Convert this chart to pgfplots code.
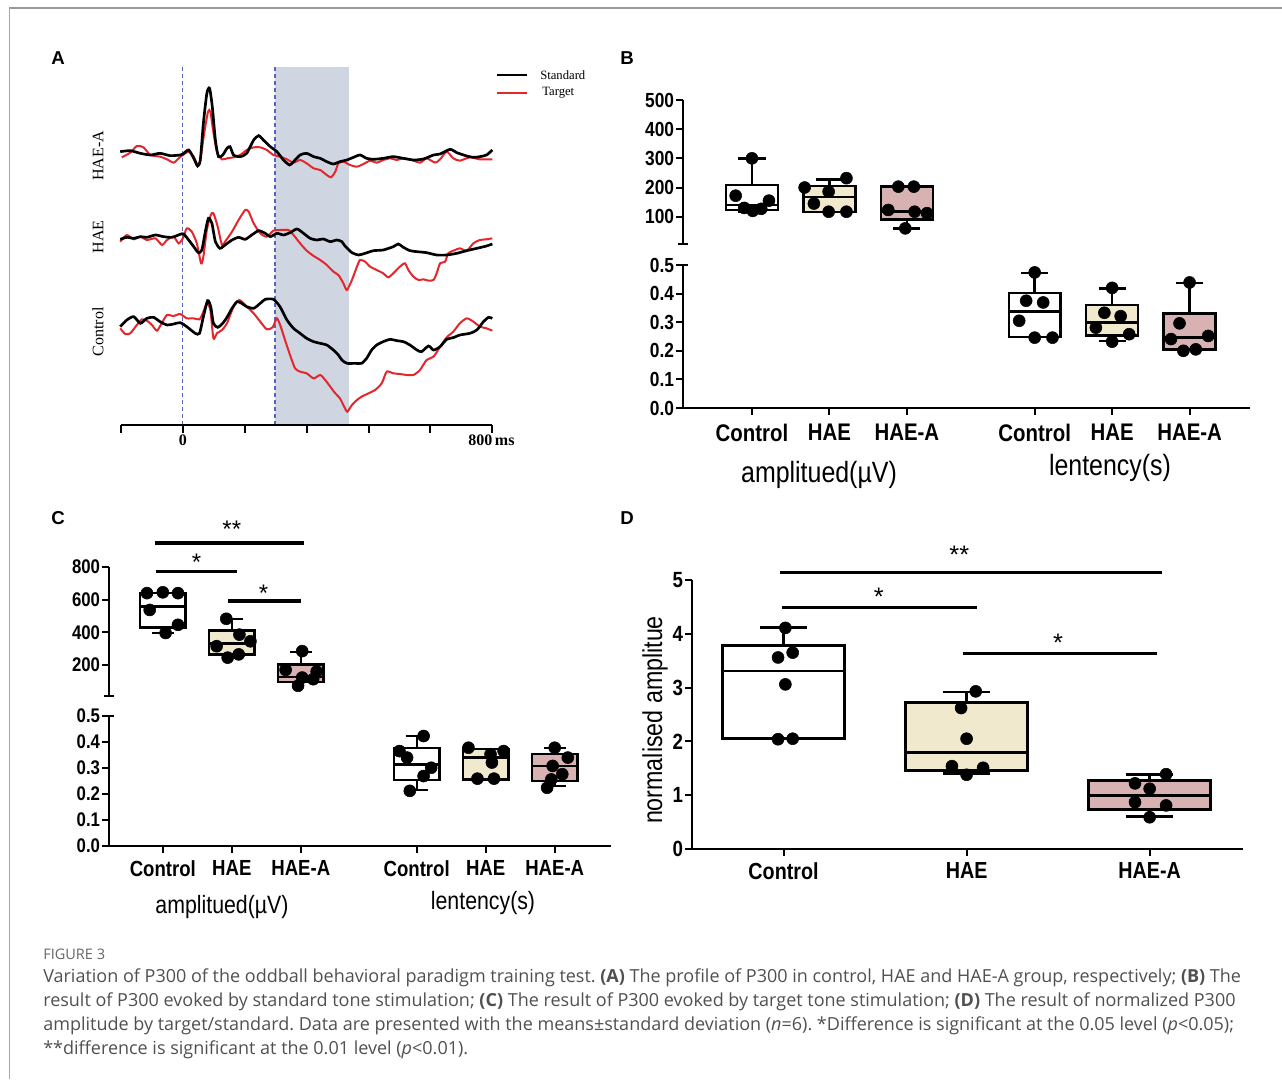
\documentclass[border=0pt]{standalone}
\usepackage{pgfplots}
\pgfplotsset{compat=1.18}
\usepackage{fontspec}
\setmainfont{Liberation Serif}
\newfontfamily\pf[FakeStretch=0.85]{Liberation Sans}
\newfontfamily\lf{Liberation Sans}
\newfontfamily\capf{Open Sans}
\definecolor{trgred}{RGB}{228,38,45}
\definecolor{shadeA}{RGB}{207,214,225}
\definecolor{dashblue}{RGB}{85,100,190}
\definecolor{haefill}{RGB}{240,233,206}
\definecolor{haeafill}{RGB}{216,178,178}
\definecolor{capgray}{RGB}{80,80,80}
\pgfplotsset{
  bx/.style={scale only axis, clip=false, anchor=south west,
    axis line style={line width=1.5pt, black},
    every tick/.style={line width=1.5pt, black},
    tick align=outside, major tick length=5pt,
    yticklabel style={inner sep=1.5pt},
  },
  upax/.style={axis x line*=bottom, axis y line*=left, x axis line style={draw=none}, xtick=\empty},
  dotmk/.style={only marks, mark=*, mark size=4.5pt, black, mark options={fill=black, draw=black}},
  boxl/.style={draw=black, line width=1.8pt, line cap=rect, line join=miter, mark=none},
  whl/.style={draw=black, line width=1.8pt, mark=none, unbounded coords=jump},
}
\begin{document}
\frenchspacing
\begin{tikzpicture}
\path[use as bounding box] (0,0) rectangle (961.5pt,809.25pt);
% frame
\draw[line width=1.1pt, color=black!40] (6.75pt,803.25pt) -- (961.5pt,803.25pt);
\draw[line width=0.7pt, color=black!35] (6.75pt,803.25pt) -- (6.75pt,0pt);

% ================= Panel A =================
\begin{axis}[at={(90.75pt,490.5pt)}, anchor=south west, scale only axis,
  width=278.5pt, height=268.25pt, xmin=-160, xmax=800, ymin=0, ymax=1073, clip=false,
  axis on top,
  axis x line*=bottom, axis y line=none,
  axis line style={line width=1.5pt, black},
  xtick={-160,0,160,320,480,640,800},
  xticklabels={,0,,,,,{\makebox[0pt][r]{800}\makebox[0pt][l]{\,ms}}},
  xtick align=outside, major tick length=6pt, every tick/.style={line width=1.5pt, black},
  xticklabel style={font=\bfseries\fontsize{12}{12}\selectfont, inner sep=1pt},
  ytick=\empty]
\fill[shadeA] (axis cs:238,0) rectangle (axis cs:430,1073);
\draw[dashblue, line width=0.9pt, dash pattern=on 3pt off 2.2pt] (axis cs:0,0) -- (axis cs:0,1073);
\draw[dashblue, line width=0.9pt, dash pattern=on 3pt off 2.2pt] (axis cs:238,0) -- (axis cs:238,1073);
% HAE-A target
\addplot[trgred, line width=1.5pt, smooth, tension=0.4] coordinates {
(-158,803) (-136,817) (-119,837) (-102,833) (-84,810) (-59,805) (-41,797) (-24,787) (-11,800) (0,810)
(15,820) (28,805) (38,780) (45,795) (55,875) (65,940) (71,940) (78,885) (88,820) (101,797)
(114,800) (131,803) (148,810) (165,825) (183,833) (200,833) (217,825) (234,810) (251,805) (269,797)
(286,787) (303,795) (320,785) (338,770) (355,765) (372,750) (383,743) (394,760) (402,785) (415,790)
(432,780) (450,775) (467,783) (484,793) (501,787) (518,795) (536,800) (553,795) (570,800) (587,797)
(613,787) (630,800) (652,787) (665,797) (682,820) (699,800) (716,793) (742,803) (768,797) (800,797)};
% HAE-A standard
\addplot[black, line width=2pt, smooth, tension=0.4] coordinates {
(-162,820) (-136,823) (-110,815) (-84,810) (-59,815) (-33,808) (-7,810) (0,813) (15,825) (28,800)
(38,777) (45,795) (53,905) (62,995) (69,1010) (76,955) (84,855) (92,805) (103,810) (114,830)
(122,835) (131,810) (148,805) (165,815) (183,855) (196,868) (208,855) (226,835) (243,820) (260,795)
(276,780) (286,790) (303,810) (320,815) (338,805) (355,800) (372,790) (389,783) (406,790) (424,795)
(441,803) (458,810) (475,800) (493,797) (518,800) (544,805) (570,800) (596,795) (622,798) (648,810)
(665,813) (691,827) (708,817) (734,807) (751,803) (768,805) (785,810) (800,825)};
% HAE target
\addplot[trgred, line width=1.5pt, smooth, tension=0.4] coordinates {
(-162,550) (-145,570) (-127,557) (-110,565) (-93,555) (-71,560) (-54,540) (-41,555) (-24,565) (-11,545)
(0,560) (10,590) (23,580) (36,545) (47,485) (53,505) (62,585) (72,630) (79,635) (90,595)
(101,540) (109,550) (127,580) (144,615) (161,645) (170,640) (183,605) (200,575) (217,565) (234,583)
(251,585) (273,585) (286,570) (303,545) (320,523) (338,507) (355,495) (372,480) (389,460) (402,450)
(415,425) (424,405) (437,435) (450,475) (458,495) (471,490) (484,475) (501,465) (518,455) (531,443)
(544,455) (561,475) (574,485) (583,465) (596,445) (609,435) (622,437) (635,433) (648,435) (656,455)
(665,485) (678,490) (686,515) (704,525) (716,530) (734,523) (751,545) (768,555) (785,557) (800,560)};
% HAE standard
\addplot[black, line width=2pt, smooth, tension=0.4] coordinates {
(-162,557) (-145,563) (-127,560) (-110,565) (-93,563) (-71,570) (-50,565) (-28,563) (-7,572) (2,573)
(15,555) (28,535) (40,517) (49,525) (58,580) (66,620) (75,605) (84,550) (96,530) (109,540)
(127,555) (144,563) (161,557) (178,570) (196,583) (213,575) (226,565) (243,575) (260,570) (277,577)
(295,588) (312,575) (329,560) (346,555) (363,558) (381,550) (398,555) (411,550) (419,537) (437,517)
(454,510) (471,515) (493,523) (518,525) (544,535) (557,543) (570,533) (587,523) (605,520) (630,517)
(656,510) (682,510) (708,515) (734,523) (760,530) (785,537) (800,543)};
% Control target
\addplot[trgred, line width=1.5pt, smooth, tension=0.4] coordinates {
(-162,290) (-149,273) (-136,275) (-119,300) (-106,317) (-93,313) (-80,300) (-67,283) (-54,307) (-41,330)
(-24,327) (-7,333) (10,320) (28,320) (43,317) (53,340) (62,365) (71,345) (79,260) (88,275)
(101,285) (114,305) (131,355) (146,375) (165,355) (183,335) (200,310) (217,287) (232,293) (243,320)
(253,295) (264,255) (277,210) (290,170) (303,160) (320,155) (338,140) (355,150) (368,135) (381,115)
(394,95) (406,80) (417,55) (425,40) (437,60) (450,75) (462,85) (480,95) (497,105) (514,125)
(527,160) (544,155) (561,153) (579,150) (596,150) (613,165) (630,195) (648,205) (665,235) (682,263)
(699,280) (716,305) (734,320) (751,310) (768,295) (785,290) (800,283)};
% Control standard
\addplot[black, line width=2pt, smooth, tension=0.4] coordinates {
(-162,295) (-145,315) (-127,325) (-110,305) (-93,320) (-76,323) (-59,310) (-41,300) (-24,303) (-7,307)
(10,295) (32,275) (43,275) (53,325) (64,373) (72,355) (79,305) (90,293) (103,305) (115,325)
(127,350) (140,370) (152,365) (165,355) (183,350) (200,365) (213,377) (234,377) (251,355) (269,315)
(286,290) (303,275) (320,260) (338,250) (355,245) (372,240) (389,225) (402,210) (411,195) (424,185)
(445,185) (462,185) (475,200) (488,225) (501,240) (518,250) (536,257) (553,253) (570,250) (587,240)
(605,225) (617,220) (635,237) (648,225) (665,235) (682,257) (699,262) (716,270) (742,275) (760,285)
(777,310) (790,323) (800,320)};
\end{axis}
% Panel A labels and legend
\node[font=\lf\bfseries\fontsize{14}{14}\selectfont] at (43.5pt,765.75pt) {A};
\node[rotate=90, font=\fontsize{12}{12}\selectfont] at (73.5pt,692.25pt) {HAE-A};
\node[rotate=90, font=\fontsize{12}{12}\selectfont] at (73.5pt,631.5pt) {HAE};
\node[rotate=90, font=\fontsize{12}{12}\selectfont] at (73.5pt,560.25pt) {Control};
\draw[black, line width=1.6pt] (372.75pt,753pt) -- (395.25pt,753pt);
\draw[trgred, line width=1.4pt] (372.75pt,739.5pt) -- (395.25pt,739.5pt);
\node[anchor=west, inner sep=0pt, font=\fontsize{9.5}{9.5}\selectfont] at (405pt,753pt) {Standard};
\node[anchor=west, inner sep=0pt, font=\fontsize{9.5}{9.5}\selectfont] at (406.5pt,739.5pt) {Target};

% ================= Panel B =================
\begin{axis}[bx, upax, at={(512.25pt,626.25pt)}, width=425.25pt, height=108pt,
  xmin=-0.89, xmax=6.43, ymin=6.4, ymax=500,
  ytick={100,200,300,400,500}, yticklabels={100,200,300,400,500},
  yticklabel style={font=\pf\bfseries\fontsize{15.3}{15.3}\selectfont}]
\addplot[boxl, fill=white] coordinates {(-0.335,122) (0.335,122) (0.335,208) (-0.335,208) (-0.335,122)};
\addplot[whl] coordinates {(0,208) (0,300) (0,nan) (-0.175,300) (0.175,300) (0,nan) (0,122) (0,118) (0,nan) (-0.175,118) (0.175,118) (0,nan) (-0.335,140) (0.335,140)};
\addplot[boxl, fill=haefill] coordinates {(0.665,117) (1.335,117) (1.335,206) (0.665,206) (0.665,117)};
\addplot[whl] coordinates {(1,206) (1,228) (1,nan) (0.825,228) (1.175,228) (1,nan) (0.665,168) (1.335,168)};
\addplot[boxl, fill=haeafill] coordinates {(1.665,90) (2.335,90) (2.335,203) (1.665,203) (1.665,90)};
\addplot[whl] coordinates {(2,90) (2,60) (2,nan) (1.825,60) (2.175,60) (2,nan) (1.665,118) (2.335,118)};
\addplot[dotmk] coordinates {(0.0,300) (-0.21,172) (-0.1,130) (0.01,120) (0.12,127) (0.22,155)};
\addplot[dotmk] coordinates {(0.68,200) (0.8,145) (0.99,186) (0.99,117) (1.22,232) (1.22,117)};
\addplot[dotmk] coordinates {(1.76,123) (1.89,203) (2.09,203) (1.98,60) (2.10,117) (2.26,112)};
\draw[line width=1.5pt] (axis cs:-0.955,6.4) -- (axis cs:-0.825,6.4);
\end{axis}
\begin{axis}[bx, at={(512.25pt,503.25pt)}, width=425.25pt, height=107.25pt,
  xmin=-0.89, xmax=6.43, ymin=0, ymax=0.5,
  axis x line*=bottom, axis y line*=left,
  ytick={0,0.1,0.2,0.3,0.4,0.5}, yticklabels={0.0,0.1,0.2,0.3,0.4,0.5},
  yticklabel style={font=\pf\bfseries\fontsize{15.3}{15.3}\selectfont},
  xtick={0,1,2,3.65,4.65,5.65}, xticklabels={Control,HAE,HAE-A,Control,HAE,HAE-A},
  xticklabel style={font=\pf\bfseries\fontsize{18}{18}\selectfont, anchor=north, inner sep=0pt, yshift=-7pt}]
\addplot[boxl, fill=white] coordinates {(3.315,0.248) (3.985,0.248) (3.985,0.402) (3.315,0.402) (3.315,0.248)};
\addplot[whl] coordinates {(3.65,0.402) (3.65,0.471) (3.65,nan) (3.475,0.471) (3.825,0.471) (3.65,nan) (3.315,0.337) (3.985,0.337)};
\addplot[boxl, fill=haefill] coordinates {(4.315,0.254) (4.985,0.254) (4.985,0.36) (4.315,0.36) (4.315,0.254)};
\addplot[whl] coordinates {(4.65,0.36) (4.65,0.418) (4.65,nan) (4.475,0.418) (4.825,0.418) (4.65,nan) (4.65,0.254) (4.65,0.234) (4.65,nan) (4.475,0.234) (4.825,0.234) (4.65,nan) (4.315,0.299) (4.985,0.299)};
\addplot[boxl, fill=haeafill] coordinates {(5.315,0.205) (5.985,0.205) (5.985,0.331) (5.315,0.331) (5.315,0.205)};
\addplot[whl] coordinates {(5.65,0.331) (5.65,0.437) (5.65,nan) (5.475,0.437) (5.825,0.437) (5.65,nan) (5.315,0.246) (5.985,0.246)};
\addplot[dotmk] coordinates {(3.65,0.474) (3.54,0.375) (3.76,0.369) (3.45,0.305) (3.65,0.246) (3.88,0.246)};
\addplot[dotmk] coordinates {(4.65,0.42) (4.55,0.333) (4.76,0.321) (4.44,0.281) (4.87,0.258) (4.65,0.232)};
\addplot[dotmk] coordinates {(5.65,0.439) (5.52,0.296) (5.89,0.252) (5.41,0.241) (5.57,0.2) (5.73,0.205)};
\draw[line width=1.5pt] (axis cs:-0.89,0.5) -- (axis cs:-0.825,0.5);
\end{axis}
\node[font=\lf\bfseries\fontsize{14}{14}\selectfont] at (470.25pt,765.75pt) {B};
\node[font=\pf\fontsize{22}{22}\selectfont] at (614.25pt,453pt) {amplitued(µV)};
\node[font=\pf\fontsize{22}{22}\selectfont] at (832.5pt,458.25pt) {lentency(s)};

% ================= Panel C =================
\begin{axis}[bx, upax, at={(81.75pt,287.25pt)}, width=376.7pt, height=96.75pt,
  xmin=-0.78, xmax=6.5, ymin=10.2, ymax=800,
  ytick={200,400,600,800}, yticklabels={200,400,600,800},
  yticklabel style={font=\pf\bfseries\fontsize{14.8}{14.8}\selectfont}]
\addplot[boxl, fill=white] coordinates {(-0.33,430) (0.33,430) (0.33,640) (-0.33,640) (-0.33,430)};
\addplot[whl] coordinates {(0,430) (0,396) (0,nan) (-0.16,396) (0.16,396) (0,nan) (-0.33,558) (0.33,558)};
\addplot[boxl, fill=haefill] coordinates {(0.67,265) (1.33,265) (1.33,412) (0.67,412) (0.67,265)};
\addplot[whl] coordinates {(1,412) (1,483) (1,nan) (0.84,483) (1.16,483) (1,nan) (0.67,331) (1.33,331)};
\addplot[boxl, fill=haeafill] coordinates {(1.67,97) (2.33,97) (2.33,204) (1.67,204) (1.67,97)};
\addplot[whl] coordinates {(2,204) (2,279) (2,nan) (1.84,279) (2.16,279) (2,nan) (1.67,127) (2.33,127)};
\addplot[dotmk] coordinates {(-0.23,640) (0,645) (0.22,640) (-0.19,537) (0.22,446) (0.04,396)};
\addplot[dotmk] coordinates {(0.92,483) (1.11,386) (0.78,315) (1.27,345) (0.94,245) (1.1,265)};
\addplot[dotmk] coordinates {(2.02,285) (1.78,170) (2.02,123) (2.23,160) (1.96,73) (2.18,113)};
\draw[line width=1.5pt] (axis cs:-0.85,10.2) -- (axis cs:-0.71,10.2);
\draw[line width=2.3pt] (axis cs:-0.12,947) -- (axis cs:2.04,947);
\draw[line width=2.3pt] (axis cs:-0.1,775) -- (axis cs:1.07,775);
\draw[line width=2.3pt] (axis cs:0.94,592) -- (axis cs:2.01,592);
\node[font=\lf\fontsize{18}{18}\selectfont, yshift=-3.7pt] at (axis cs:1.0,1063) {**};
\node[font=\lf\fontsize{18}{18}\selectfont, yshift=-3.7pt] at (axis cs:0.49,861) {*};
\node[font=\lf\fontsize{18}{18}\selectfont, yshift=-3.7pt] at (axis cs:1.46,671) {*};
\end{axis}
\begin{axis}[bx, at={(81.75pt,174.75pt)}, width=376.7pt, height=97.5pt,
  xmin=-0.78, xmax=6.5, ymin=0, ymax=0.5,
  axis x line*=bottom, axis y line*=left,
  ytick={0,0.1,0.2,0.3,0.4,0.5}, yticklabels={0.0,0.1,0.2,0.3,0.4,0.5},
  yticklabel style={font=\pf\bfseries\fontsize{14.8}{14.8}\selectfont},
  xtick={0,1,2,3.68,4.68,5.68}, xticklabels={Control,HAE,HAE-A,Control,HAE,HAE-A},
  xticklabel style={font=\pf\bfseries\fontsize{16.4}{16.4}\selectfont, anchor=north, inner sep=0pt, yshift=-5.5pt}]
\addplot[boxl, fill=white] coordinates {(3.35,0.253) (4.01,0.253) (4.01,0.378) (3.35,0.378) (3.35,0.253)};
\addplot[whl] coordinates {(3.68,0.378) (3.68,0.423) (3.68,nan) (3.52,0.423) (3.84,0.423) (3.68,nan) (3.68,0.253) (3.68,0.215) (3.68,nan) (3.52,0.215) (3.84,0.215) (3.68,nan) (3.35,0.314) (4.01,0.314)};
\addplot[boxl, fill=haefill] coordinates {(4.35,0.256) (5.01,0.256) (5.01,0.374) (4.35,0.374) (4.35,0.256)};
\addplot[whl] coordinates {(4.35,0.34) (5.01,0.34)};
\addplot[boxl, fill=haeafill] coordinates {(5.35,0.25) (6.01,0.25) (6.01,0.353) (5.35,0.353) (5.35,0.25)};
\addplot[whl] coordinates {(5.68,0.353) (5.68,0.378) (5.68,nan) (5.52,0.378) (5.84,0.378) (5.68,nan) (5.68,0.25) (5.68,0.231) (5.68,nan) (5.52,0.231) (5.84,0.231) (5.68,nan) (5.35,0.308) (6.01,0.308)};
\addplot[dotmk] coordinates {(3.78,0.423) (3.43,0.365) (3.54,0.34) (3.89,0.301) (3.78,0.269) (3.58,0.212)};
\addplot[dotmk] coordinates {(4.43,0.378) (4.94,0.365) (4.75,0.353) (4.77,0.321) (4.56,0.259) (4.8,0.259)};
\addplot[dotmk] coordinates {(5.68,0.378) (5.87,0.34) (5.65,0.308) (5.79,0.276) (5.63,0.256) (5.57,0.224)};
\draw[line width=1.5pt] (axis cs:-0.78,0.5) -- (axis cs:-0.71,0.5);
\end{axis}
\node[font=\lf\bfseries\fontsize{14}{14}\selectfont] at (43.5pt,420.75pt) {C};
\node[font=\pf\fontsize{18.8}{18.8}\selectfont] at (166.5pt,129pt) {amplitued(µV)};
\node[font=\pf\fontsize{18.8}{18.8}\selectfont] at (362.25pt,132pt) {lentency(s)};

% ================= Panel D =================
\begin{axis}[bx, at={(519pt,172.5pt)}, width=413.25pt, height=201.75pt,
  xmin=-0.5, xmax=2.51, ymin=0, ymax=5,
  axis x line*=bottom, axis y line*=left,
  ytick={0,1,2,3,4,5}, yticklabels={0,1,2,3,4,5},
  yticklabel style={font=\pf\bfseries\fontsize{16.5}{16.5}\selectfont},
  xtick={0,1,2}, xticklabels={Control,HAE,HAE-A},
  xticklabel style={font=\pf\bfseries\fontsize{17.4}{17.4}\selectfont, anchor=north, inner sep=0pt, yshift=-5pt}]
\addplot[boxl, line width=2.1pt, fill=white] coordinates {(-0.3335,2.05) (0.3335,2.05) (0.3335,3.78) (-0.3335,3.78) (-0.3335,2.05)};
\addplot[whl, line width=2.1pt] coordinates {(0,3.78) (0,4.11) (0,nan) (-0.13,4.11) (0.13,4.11) (0,nan) (-0.3335,3.31) (0.3335,3.31)};
\addplot[boxl, line width=2.1pt, fill=haefill] coordinates {(0.6665,1.46) (1.3335,1.46) (1.3335,2.73) (0.6665,2.73) (0.6665,1.46)};
\addplot[whl, line width=2.1pt] coordinates {(1,2.73) (1,2.92) (1,nan) (0.87,2.92) (1.13,2.92) (1,nan) (1,1.46) (1,1.40) (1,nan) (0.87,1.40) (1.13,1.40) (1,nan) (0.6665,1.80) (1.3335,1.80)};
\addplot[boxl, line width=2.1pt, fill=haeafill] coordinates {(1.6665,0.73) (2.3335,0.73) (2.3335,1.27) (1.6665,1.27) (1.6665,0.73)};
\addplot[whl, line width=2.1pt] coordinates {(2,1.27) (2,1.39) (2,nan) (1.87,1.39) (2.13,1.39) (2,nan) (2,0.73) (2,0.60) (2,nan) (1.87,0.60) (2.13,0.60) (2,nan) (1.6665,0.99) (2.3335,0.99)};
\addplot[dotmk] coordinates {(0.01,4.11) (-0.03,3.56) (0.05,3.65) (0.01,3.06) (-0.03,2.04) (0.05,2.05)};
\addplot[dotmk] coordinates {(1.05,2.93) (0.97,2.62) (1.0,2.05) (0.92,1.54) (1.09,1.51) (1.0,1.38)};
\addplot[dotmk] coordinates {(2.09,1.39) (1.92,1.22) (2.0,1.12) (1.92,0.87) (2.09,0.81) (2.0,0.59)};
\draw[line width=2.3pt] (axis cs:-0.02,5.14) -- (axis cs:2.07,5.14);
\draw[line width=2.3pt] (axis cs:-0.01,4.49) -- (axis cs:1.055,4.49);
\draw[line width=2.3pt] (axis cs:0.98,3.63) -- (axis cs:2.04,3.63);
\node[font=\lf\fontsize{19}{19}\selectfont, yshift=-4pt] at (axis cs:0.96,5.56) {**};
\node[font=\lf\fontsize{19}{19}\selectfont, yshift=-4pt] at (axis cs:0.52,4.78) {*};
\node[font=\lf\fontsize{19}{19}\selectfont, yshift=-4pt] at (axis cs:1.5,3.93) {*};
\end{axis}
\node[font=\lf\bfseries\fontsize{14}{14}\selectfont] at (470.25pt,420.75pt) {D};
\node[rotate=90, font=\pf\fontsize{20.5}{20.5}\selectfont] at (491.25pt,269.25pt) {normalised amplitue};

% ================= Caption =================
\node[anchor=base west, inner sep=0pt, text=black!60, font=\capf\fontsize{10.9}{12}\selectfont] at (32.25pt,90pt) {FIGURE 3};
\begin{scope}[every node/.style={anchor=base west, inner sep=0pt, text=capgray, font=\capf\fontsize{13.5}{15}\selectfont}]
\node at (32.25pt,72.75pt) {Variation of P300 of the oddball behavioral paradigm training test. \textbf{(A)} The profile of P300 in control, HAE and HAE-A group, respectively; \textbf{(B)} The};
\node at (32.25pt,54.75pt) {result of P300 evoked by standard tone stimulation; \textbf{(C)} The result of P300 evoked by target tone stimulation; \textbf{(D)} The result of normalized P300};
\node at (32.25pt,36.75pt) {amplitude by target/standard. Data are presented with the means±standard deviation (\textit{n}=6). *Difference is significant at the 0.05 level (\textit{p}<0.05);};
\node at (32.25pt,18.75pt) {**difference is significant at the 0.01 level (\textit{p}<0.01).};
\end{scope}
\end{tikzpicture}
\end{document}
